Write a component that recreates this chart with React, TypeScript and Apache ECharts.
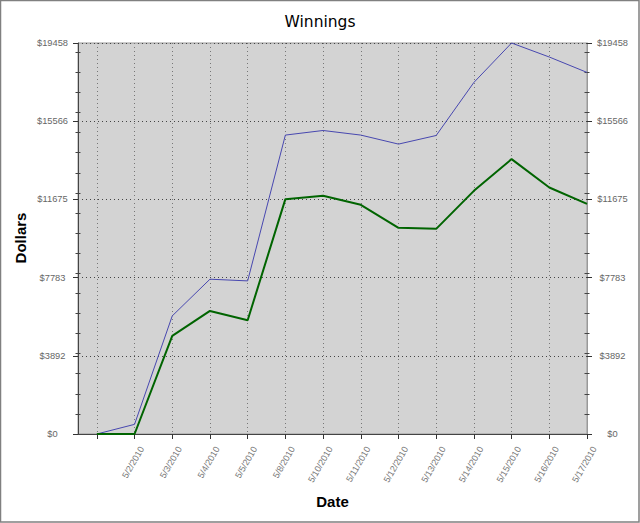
import React, { useEffect, useRef } from "react";
import * as echarts from "echarts";

const dates = [
  "",
  "5/2/2010",
  "5/3/2010",
  "5/4/2010",
  "5/5/2010",
  "5/8/2010",
  "5/10/2010",
  "5/11/2010",
  "5/12/2010",
  "5/13/2010",
  "5/14/2010",
  "5/15/2010",
  "5/16/2010",
  "5/17/2010",
];
const totalSeries = [0, 480, 5877, 7704, 7619, 14875, 15104, 14875, 14427, 14855, 17495, 19458, 18760, 17994];
const netSeries = [0, 0, 4880, 6125, 5662, 11688, 11852, 11404, 10259, 10209, 12101, 13680, 12266, 11454];
const yTickLabels = ["$0", "$3892", "$7783", "$11675", "$15566", "$19458"];
const yMax = 19458;
const minorTicks = [1000, 2000, 3000, 4000, 5000, 6000, 7000, 8000, 9000, 10000, 11000, 12000, 13000, 14000, 15000, 16000, 17000, 18000, 19000];

export default function App() {
  const ref = useRef<HTMLDivElement>(null);
  useEffect(() => {
    document.body.style.margin = "0";
    const chart = echarts.init(ref.current!, null, { renderer: "svg" });
    const interval = yMax / (yTickLabels.length - 1);
    const idx = dates.map((_, i) => i);
    const labelFont = "Liberation Sans, Arial, sans-serif";
    const yLabel = (v: number) => yTickLabels[Math.round(v / interval)] ?? "";
    const baseY = {
      type: "value",
      min: 0,
      max: yMax,
      interval,
    };
    const minorAxis = (position: string) => ({
      ...baseY,
      position,
      offset: -2.5,
      axisLine: { show: false, onZero: false },
      axisLabel: { show: false },
      splitLine: { show: false },
      axisTick: {
        show: true,
        length: 5,
        customValues: minorTicks,
        lineStyle: { color: "#444", width: 1 },
      },
    });
    chart.setOption({
      animation: false,
      backgroundColor: "#ffffff",
      grid: {
        left: 78,
        right: 53,
        top: 43,
        bottom: 89,
        show: true,
        backgroundColor: "#d3d3d3",
        borderColor: "#999",
        borderWidth: 1,
      },
      xAxis: {
        type: "value",
        min: -0.5,
        max: dates.length - 1,
        axisLine: { show: true, onZero: false, lineStyle: { color: "#444", width: 1 } },
        axisTick: {
          show: true,
          length: 5,
          customValues: idx,
          lineStyle: { color: "#333" },
        },
        axisLabel: {
          customValues: idx,
          formatter: (v: number) => dates[Math.round(v)] ?? "",
          rotate: 60,
          margin: 9,
          verticalAlign: "top",
          lineHeight: 17,
          color: "#777",
          fontSize: 9,
          fontFamily: labelFont,
        },
        splitLine: {
          show: true,
          lineStyle: { color: "#777", type: [1, 3], width: 1 },
        },
      },
      yAxis: [
        {
          ...baseY,
          position: "left",
          axisLine: { show: true, onZero: false, lineStyle: { color: "#444" } },
          axisTick: { show: true, length: 5, lineStyle: { color: "#333" } },
          axisLabel: {
            formatter: yLabel,
            align: "center",
            margin: 25.5,
            color: "#666",
            fontSize: 9.3,
            fontFamily: labelFont,
          },
          splitLine: {
            show: true,
            lineStyle: { color: "#444", type: [1, 3], width: 1 },
          },
        },
        {
          ...baseY,
          position: "right",
          axisLine: { show: true, onZero: false, lineStyle: { color: "#999" } },
          axisTick: { show: true, length: 5, lineStyle: { color: "#333" } },
          axisLabel: {
            formatter: yLabel,
            align: "center",
            margin: 25.5,
            color: "#666",
            fontSize: 9.3,
            fontFamily: labelFont,
          },
          splitLine: { show: false },
        },
        minorAxis("left"),
        minorAxis("right"),
      ],
      series: [
        {
          name: "Total",
          type: "line",
          yAxisIndex: 0,
          data: totalSeries.map((v, i) => [i, v]),
          symbol: "none",
          clip: false,
          lineStyle: { color: "#4848b0", width: 1 },
          z: 3,
        },
        {
          name: "Net",
          type: "line",
          yAxisIndex: 0,
          data: netSeries.map((v, i) => [i, v]),
          symbol: "none",
          clip: false,
          lineStyle: { color: "#006400", width: 2 },
          z: 4,
        },
      ],
      graphic: [
        {
          type: "rect",
          shape: { x: 0.5, y: 0.5, width: 638.5, height: 521.5 },
          style: { fill: "none", stroke: "#808080", lineWidth: 1.5 },
          silent: true,
        },
        {
          type: "text",
          x: 320,
          y: 22,
          style: {
            text: "Winnings",
            align: "center",
            verticalAlign: "middle",
            font: "normal 15.5px 'DejaVu Sans', sans-serif",
            fill: "#000",
          },
        },
        {
          type: "text",
          x: 332.5,
          y: 501.5,
          style: {
            text: "Date",
            align: "center",
            verticalAlign: "middle",
            font: "bold 15px 'Liberation Sans', Arial, sans-serif",
            fill: "#000",
          },
        },
        {
          type: "text",
          x: 20.5,
          y: 238,
          rotation: Math.PI / 2,
          style: {
            text: "Dollars",
            align: "center",
            verticalAlign: "middle",
            font: "bold 15px 'Liberation Sans', Arial, sans-serif",
            fill: "#000",
          },
        },
      ],
    });
    return () => chart.dispose();
  }, []);
  return <div ref={ref} style={{ width: 640, height: 523 }} />;
}
